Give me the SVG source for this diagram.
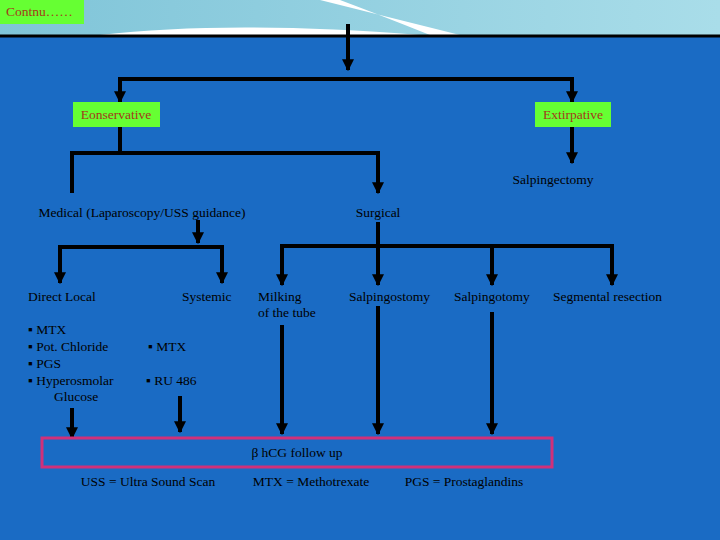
<svg xmlns="http://www.w3.org/2000/svg" width="720" height="540" viewBox="0 0 720 540">
<defs>
<marker id="ah" viewBox="0 0 10 10" refX="9" refY="5" markerWidth="3" markerHeight="3" orient="auto"><path d="M0,0L10,5L0,10z" fill="#000"/></marker>
<linearGradient id="sky" x1="0" y1="0" x2="1" y2="0"><stop offset="0" stop-color="#7fc4d8"/><stop offset="1" stop-color="#a9dde9"/></linearGradient>
</defs>
<style>
text{font-family:"Liberation Serif",serif;font-size:13.5px;fill:#000}
.g{fill:#66ff33}
.gt{fill:#a33a1a}
.c line,.c path{stroke:#000;stroke-width:4;fill:none}
.a{marker-end:url(#ah)}
</style>
<rect width="720" height="540" fill="#1a6bc4"/>
<rect width="720" height="35" fill="url(#sky)"/>
<path d="M100,35 Q230,20 420,35Z" fill="#fff"/>
<path d="M320,0 Q400,20 460,35 L430,35 Q380,15 340,0Z" fill="#fff"/>
<line x1="0" y1="36" x2="720" y2="36" stroke="#000" stroke-width="3"/>
<g id="contnu"><rect x="0" y="0" width="84" height="24" class="g"/><text x="6" y="16" class="gt">Contnu……</text></g>
<g class="c" id="connectors">
<line class="a" x1="348" y1="24" x2="348" y2="70"/>
<path d="M120,102V79H572V102"/>
<line class="a" x1="120" y1="79" x2="120" y2="102"/>
<line class="a" x1="572" y1="79" x2="572" y2="102"/>
<path d="M120,127V153"/>
<path class="a" d="M72,193V153H378V193"/>
<line class="a" x1="572" y1="127" x2="572" y2="163"/>
<line class="a" x1="198" y1="220" x2="198" y2="243"/>
<path d="M60,283V247H222V283"/>
<line class="a" x1="60" y1="247" x2="60" y2="283"/>
<line class="a" x1="222" y1="247" x2="222" y2="283"/>
<path d="M282,283V246H612V283"/>
<line class="a" x1="378" y1="222" x2="378" y2="285"/>
<line class="a" x1="282" y1="246" x2="282" y2="285"/>
<line class="a" x1="492" y1="246" x2="492" y2="285"/>
<line class="a" x1="612" y1="246" x2="612" y2="285"/>
<line class="a" x1="282" y1="325" x2="282" y2="434"/>
<line class="a" x1="378" y1="306" x2="378" y2="434"/>
<line class="a" x1="492" y1="312" x2="492" y2="434"/>
<line class="a" x1="72" y1="408" x2="72" y2="438"/>
<line class="a" x1="180" y1="396" x2="180" y2="432"/>
</g>
<g id="conservative"><rect x="73" y="102" width="87" height="25" class="g"/><text x="116" y="119" text-anchor="middle" class="gt">Eonservative</text></g>
<g id="extirpative"><rect x="535" y="102" width="76" height="25" class="g"/><text x="573" y="119" text-anchor="middle" class="gt">Extirpative</text></g>
<g id="salpingectomy"><text x="553" y="184" text-anchor="middle">Salpingectomy</text></g>
<g id="medical"><text x="142" y="217" text-anchor="middle">Medical (Laparoscopy/USS guidance)</text></g>
<g id="surgical"><text x="378" y="217" text-anchor="middle">Surgical</text></g>
<g id="direct"><text x="28" y="301">Direct Local</text>
<text x="28" y="334">▪ MTX</text><text x="28" y="351">▪ Pot. Chloride</text><text x="28" y="368">▪ PGS</text><text x="28" y="385">▪ Hyperosmolar</text><text x="54" y="401">Glucose</text></g>
<g id="systemic"><text x="182" y="301">Systemic</text><text x="148" y="351">▪ MTX</text><text x="146" y="385">▪ RU 486</text></g>
<g id="milking"><text x="258" y="301">Milking</text><text x="258" y="317">of the tube</text></g>
<g id="salpingostomy"><text x="349" y="301">Salpingostomy</text></g>
<g id="salpingotomy"><text x="454" y="301">Salpingotomy</text></g>
<g id="segmental"><text x="553" y="301">Segmental resection</text></g>
<g id="hcg"><rect x="42" y="438" width="510" height="29" fill="none" stroke="#d0307a" stroke-width="3"/><text x="297" y="457" text-anchor="middle" font-size="14">β hCG follow up</text></g>
<g id="legend"><text x="148" y="486" text-anchor="middle">USS = Ultra Sound Scan</text><text x="311" y="486" text-anchor="middle">MTX = Methotrexate</text><text x="464" y="486" text-anchor="middle">PGS = Prostaglandins</text></g>
</svg>
